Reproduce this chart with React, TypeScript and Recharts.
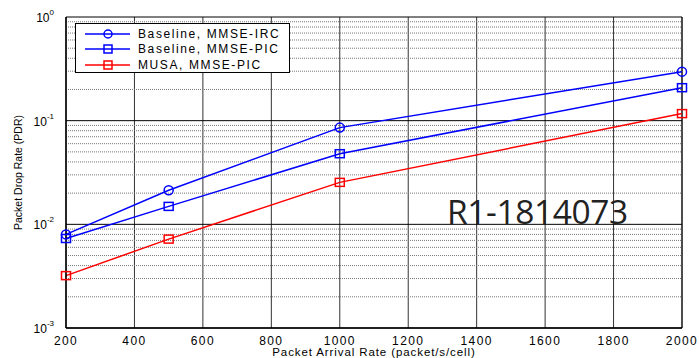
import { CartesianGrid, Legend, Line, LineChart, ReferenceLine, XAxis, YAxis } from "recharts";

const rates = [200, 500, 1000, 2000];
const baselineIrc = [0.008, 0.0213, 0.0857, 0.297];
const baselinePic = [0.0073, 0.0149, 0.048, 0.208];
const musaPic = [0.0032, 0.0072, 0.0254, 0.117];

const xTicks = [200, 400, 600, 800, 1000, 1200, 1400, 1600, 1800, 2000];
const decades = [0.001, 0.01, 0.1, 1];
const decadeExp = ["-3", "-2", "-1", "0"];
const minors = [
  0.002, 0.003, 0.004, 0.005, 0.006, 0.007, 0.008, 0.009,
  0.02, 0.03, 0.04, 0.05, 0.06, 0.07, 0.08, 0.09,
  0.2, 0.3, 0.4, 0.5, 0.6, 0.7, 0.8, 0.9,
];

const series = [
  { key: "irc", name: "Baseline, MMSE-IRC", color: "#0000ff", marker: "circle" },
  { key: "pic", name: "Baseline, MMSE-PIC", color: "#0000ff", marker: "square" },
  { key: "musa", name: "MUSA, MMSE-PIC", color: "#ff0000", marker: "square" },
];

const data = rates.map((r, i) => ({
  rate: r,
  irc: baselineIrc[i],
  pic: baselinePic[i],
  musa: musaPic[i],
}));

const font = "'Liberation Sans', Arial, sans-serif";

function Marker(props: any, shape: string, color: string) {
  const { cx, cy, index } = props;
  if (cx == null || cy == null) return null;
  if (shape === "circle") {
    return <circle key={index} cx={cx} cy={cy} r={4.5} fill="none" stroke={color} strokeWidth={1.5} />;
  }
  return <rect key={index} x={cx - 4.5} y={cy - 4} width={9} height={8} fill="none" stroke={color} strokeWidth={1.5} />;
}

function YTick(props: any) {
  const { x, y, payload } = props;
  const i = decades.indexOf(payload.value);
  if (i < 0) return null;
  return (
    <text x={x - 4} y={y + 5} textAnchor="end" fontFamily={font} fontSize={12} fill="#000">
      10
      <tspan fontSize={8} dy={-7}>{decadeExp[i]}</tspan>
    </text>
  );
}

function XLabel(props: any) {
  const { viewBox } = props;
  const cx = viewBox.x + viewBox.width / 2;
  return (
    <text x={cx} y={356} textAnchor="middle" fontFamily={font} fontSize={11.5} letterSpacing={0.9} fill="#000">
      Packet Arrival Rate (packet/s/cell)
    </text>
  );
}

function LegendBox() {
  return (
    <div
      style={{
        boxSizing: "border-box",
        width: 215,
        height: 50,
        border: "1px solid #000",
        background: "#fff",
        padding: "2px 0 0 9px",
        fontFamily: font,
        fontSize: 12,
        letterSpacing: 1.6,
      }}
    >
      {series.map((s) => (
        <div key={s.key} style={{ display: "flex", alignItems: "center", height: 15.5 }}>
          <svg width={45} height={12} style={{ marginRight: 8 }}>
            <line x1={0} y1={6} x2={45} y2={6} stroke={s.color} strokeWidth={1.5} />
            {s.marker === "circle" ? (
              <circle cx={23} cy={6} r={4} fill="none" stroke={s.color} strokeWidth={1.5} />
            ) : (
              <rect x={19} y={2} width={8} height={8} fill="none" stroke={s.color} strokeWidth={1.5} />
            )}
          </svg>
          <span>{s.name}</span>
        </div>
      ))}
    </div>
  );
}

export default function App() {
  return (
    <div style={{ position: "absolute", left: 0, top: 0, width: 699, height: 358, background: "#fff" }}>
      <LineChart width={699} height={358} data={data} margin={{ top: 17, right: 17, bottom: 0, left: 0 }}>
        <CartesianGrid horizontal={false} stroke="#333" strokeOpacity={1} />
        {minors.map((v) => (
          <ReferenceLine key={"m" + v} y={v} stroke="#777" strokeDasharray="1 1" />
        ))}
        {decades.map((v) => (
          <ReferenceLine key={"d" + v} y={v} stroke="#000" />
        ))}
        <ReferenceLine x={2000} stroke="#000" />
        <XAxis
          dataKey="rate"
          type="number"
          domain={[200, 2000]}
          ticks={xTicks}
          tickLine={false}
          axisLine={{ stroke: "#000", strokeWidth: 1.5 }}
          tick={{ fontFamily: font, fontSize: 12, fill: "#000", letterSpacing: 1.4 }}
          tickMargin={2}
          height={30}
          label={<XLabel />}
        />
        <YAxis
          scale="log"
          type="number"
          domain={[0.001, 1]}
          allowDataOverflow
          ticks={[...decades, ...minors].sort((a, b) => a - b)}
          tick={<YTick />}
          tickLine={false}
          axisLine={{ stroke: "#000", strokeWidth: 1.5 }}
          width={66}
          label={{ value: "Packet Drop Rate (PDR)", angle: -90, position: "insideLeft", offset: 18, fontFamily: font, fontSize: 10.5, fill: "#000", style: { textAnchor: "middle" } }}
        />
        <Legend
          layout="vertical"
          align="center"
          verticalAlign="middle"
          content={<LegendBox />}
          wrapperStyle={{ left: 75, top: 23, width: "auto", height: "auto" }}
        />
        {series.map((s) => (
          <Line
            key={s.key}
            dataKey={s.key}
            name={s.name}
            stroke={s.color}
            strokeWidth={1.5}
            isAnimationActive={false}
            dot={(p: any) => Marker(p, s.marker, s.color)}
            activeDot={false}
          />
        ))}
      </LineChart>
      <div style={{ position: "absolute", left: 447, top: 188, fontFamily: "'Open Sans', sans-serif", fontSize: 33.5, color: "#222", letterSpacing: -0.4 }}>
        R1-1814073
      </div>
    </div>
  );
}
